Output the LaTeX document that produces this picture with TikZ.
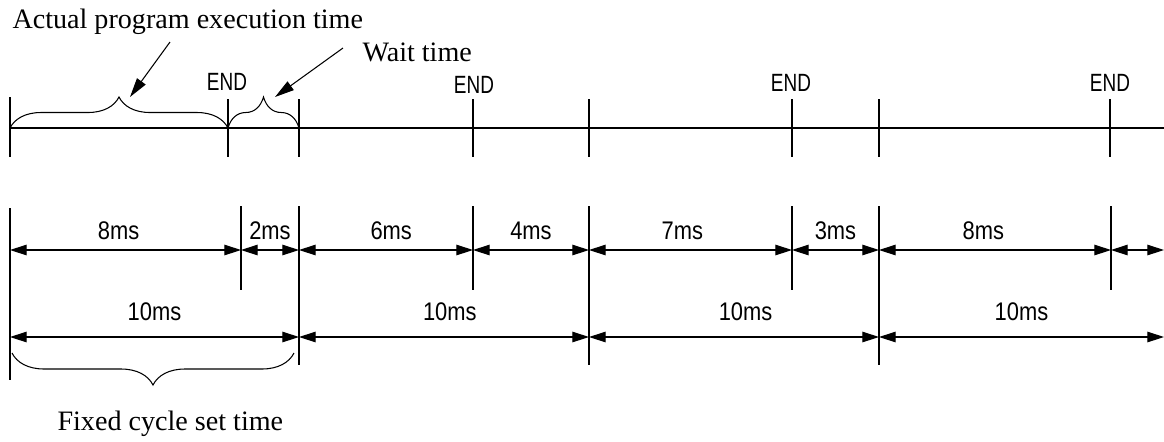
\documentclass[tikz,border=0pt]{standalone}
\usepackage{fontspec}
\setmainfont{Liberation Serif}
\newfontfamily\msfont[FakeStretch=0.86]{Liberation Sans}
\newfontfamily\endfont[FakeStretch=0.76]{Liberation Sans}
\usetikzlibrary{arrows.meta,decorations.pathreplacing}

\begin{document}
\begin{tikzpicture}[x=0.02cm, y=-0.02cm, line width=0.6pt,
  dimline/.style={{Triangle[length=9.5pt,width=6pt]}-{Triangle[length=9.5pt,width=6pt]}},
  pointer/.style={-{Triangle[length=11pt,width=6pt]}},
  endmark/.style={font=\endfont\fontsize{14.2}{16}\selectfont, anchor=base, inner sep=0pt},
  tmark/.style={font=\msfont\fontsize{14.5}{16}\selectfont, anchor=base, inner sep=0pt},
  caption/.style={font=\fontsize{16}{19}\selectfont, anchor=base west, inner sep=0pt},
  curly/.style={decorate, decoration={brace, amplitude=#1}}]
\useasboundingbox (0,0) rectangle (1164,441);

% Верхняя шкала
\coordinate (s0) at (10,128);
\coordinate (s1) at (228,128);
\coordinate (s2) at (299,128);
\coordinate (s9) at (1164,128);
\draw (s0) -- (s9);
\draw (10,97) -- (10,157);
\draw (228,99) -- (228,157);
\draw (299,99) -- (299,157);
\draw (473,99) -- (473,157);
\draw (589,99) -- (589,157);
\draw (792,99) -- (792,157);
\draw (879,99) -- (879,157);
\draw (1110,99) -- (1110,157);

\node (end1) [endmark] at (227,90) {END};
\node (end2) [endmark] at (474,93) {END};
\node (end3) [endmark] at (791,91) {END};
\node (end4) [endmark] at (1110,91) {END};

% Скобки и подписи
\draw[curly=0.62cm] (s0) -- (s1);
\draw[curly=0.62cm] (s1) -- (s2);
\node (actual) [caption] at (12,28) {Actual program execution time};
\node (wait) [caption] at (362,61) {Wait time};
\coordinate (atail) at (170,42);
\coordinate (ahead) at (130,97);
\coordinate (wtail) at (343,48);
\coordinate (whead) at (275,97);
\draw[pointer] (atail) -- (ahead);
\draw[pointer] (wtail) -- (whead);

% Нижние засечки
\draw (10,208) -- (10,380);
\draw (241,206) -- (241,290);
\draw (299,206) -- (299,365);
\draw (473,206) -- (473,290);
\draw (589,206) -- (589,365);
\draw (792,206) -- (792,290);
\draw (879,206) -- (879,365);
\draw (1111,206) -- (1111,290);

% Размеры: первый ряд
\coordinate (d0) at (10,250);
\coordinate (d1) at (241,250);
\coordinate (d2) at (299,250);
\coordinate (d3) at (473,250);
\coordinate (d4) at (589,250);
\coordinate (d5) at (792,250);
\coordinate (d6) at (879,250);
\coordinate (d7) at (1111,250);
\coordinate (d8) at (1164,250);
\draw[dimline] (d0) -- node[tmark, pos=.47, yshift=5.7pt] {8ms} (d1);
\draw[dimline] (d1) -- node[tmark, yshift=5.7pt] {2ms} (d2);
\draw[dimline] (d2) -- node[tmark, pos=.53, yshift=5.7pt] {6ms} (d3);
\draw[dimline] (d3) -- node[tmark, yshift=5.7pt] {4ms} (d4);
\draw[dimline] (d4) -- node[tmark, pos=.46, yshift=5.7pt] {7ms} (d5);
\draw[dimline] (d5) -- node[tmark, yshift=5.7pt] {3ms} (d6);
\draw[dimline] (d6) -- node[tmark, pos=.45, yshift=5.7pt] {8ms} (d7);
\draw[dimline] (d7) -- (d8);

% Размеры: второй ряд
\coordinate (f0) at (10,337);
\coordinate (f1) at (299,337);
\coordinate (f2) at (589,337);
\coordinate (f3) at (879,337);
\coordinate (f4) at (1164,337);
\draw[dimline] (f0) -- node[tmark, yshift=9.6pt] {10ms} (f1);
\draw[dimline] (f1) -- node[tmark, pos=.52, yshift=9.6pt] {10ms} (f2);
\draw[dimline] (f2) -- node[tmark, pos=.54, yshift=9.6pt] {10ms} (f3);
\draw[dimline] (f3) -- node[tmark, yshift=9.6pt] {10ms} (f4);

% Фиксированный цикл
\coordinate (b0) at (12,353);
\coordinate (b1) at (294,353);
\draw[curly=0.64cm] (b1) -- (b0);
\node (fixed) [caption] at (57,430) {Fixed cycle set time};

\end{tikzpicture}
\end{document}
